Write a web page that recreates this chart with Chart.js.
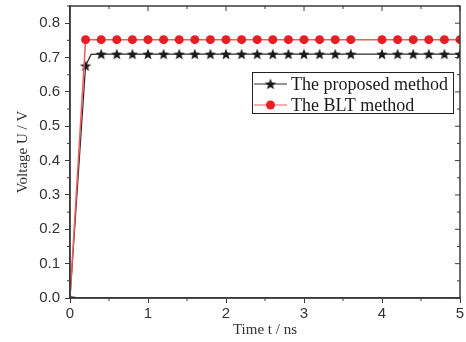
<!DOCTYPE html>
<html>
<head>
<meta charset="utf-8">
<script src="https://cdn.jsdelivr.net/npm/chart.js@4"></script>
<style>
  body { margin: 0; background: #fff; }
  canvas { display: block; }
</style>
</head>
<body>
<canvas id="myChart" width="466" height="342"></canvas>
<script>
// data
const proposedT = [0, 0.2, 0.27, 0.4, 0.6, 0.8, 1.0, 1.2, 1.4, 1.6, 1.8, 2.0, 2.2, 2.4, 2.6, 2.8, 3.0, 3.2, 3.4, 3.6, 4.0, 4.2, 4.4, 4.6, 4.8, 5.0];
const proposedU = [0, 0.676, 0.709, 0.71, 0.71, 0.71, 0.71, 0.71, 0.71, 0.71, 0.71, 0.71, 0.71, 0.71, 0.71, 0.71, 0.71, 0.71, 0.71, 0.71, 0.71, 0.71, 0.71, 0.71, 0.71, 0.71];
const bltT = [0, 0.2, 0.4, 0.6, 0.8, 1.0, 1.2, 1.4, 1.6, 1.8, 2.0, 2.2, 2.4, 2.6, 2.8, 3.0, 3.2, 3.4, 3.6, 4.0, 4.2, 4.4, 4.6, 4.8, 5.0];
const bltU = [0, 0.752, 0.752, 0.752, 0.752, 0.752, 0.752, 0.752, 0.752, 0.752, 0.752, 0.752, 0.752, 0.752, 0.752, 0.752, 0.752, 0.752, 0.752, 0.752, 0.752, 0.752, 0.752, 0.752, 0.752];
const xTicks = [0, 1, 2, 3, 4, 5];
const yTicks = [0, 0.1, 0.2, 0.3, 0.4, 0.5, 0.6, 0.7, 0.8];
const seriesNames = ['The proposed method', 'The BLT method'];

const axisColor = '#3a3a3a';
const textColor = '#333';

// filled five point star for the markers
function makeStar(r, color) {
    const c = document.createElement('canvas');
    c.width = c.height = r * 2 + 2;
    const g = c.getContext('2d');
    g.fillStyle = color;
    g.beginPath();
    for (let i = 0; i < 10; i++) {
        const rad = i % 2 === 0 ? r : r * 0.42;
        const a = -Math.PI / 2 + i * Math.PI / 5;
        const px = r + 1 + rad * Math.cos(a);
        const py = r + 1 + 0.5 + rad * Math.sin(a);
        if (i === 0) g.moveTo(px, py); else g.lineTo(px, py);
    }
    g.closePath();
    g.fill();
    return c;
}
const starImg = makeStar(6, '#1a1a1a');

function toPoints(xs, ys) {
    return xs.map((x, i) => ({ x: x, y: ys[i] }));
}

// markers only on the 0.2 grid, small one at t = 0
function markerRadius(size) {
    return ctx => {
        const x = ctx.raw ? ctx.raw.x : 0;
        if (x === 0) return 2;
        return Math.abs(x * 5 - Math.round(x * 5)) > 1e-6 ? 0 : size;
    };
}

// frame, mirrored ticks and minor ticks
const framePlugin = {
    id: 'frame',
    afterDraw(chart) {
        const { ctx, chartArea: a, scales } = chart;
        const xs = scales.x, ys = scales.y;
        ctx.save();
        ctx.strokeStyle = axisColor;
        ctx.lineWidth = 1.5;
        ctx.strokeRect(a.left, a.top, a.right - a.left, a.bottom - a.top);
        ctx.lineWidth = 1;
        ctx.beginPath();
        for (let v = 0.5; v < 5; v += 1) {
            const px = xs.getPixelForValue(v);
            ctx.moveTo(px, a.bottom); ctx.lineTo(px, a.bottom + 3);
            ctx.moveTo(px, a.top); ctx.lineTo(px, a.top + 3);
        }
        xTicks.forEach(v => {
            const px = xs.getPixelForValue(v);
            ctx.moveTo(px, a.top); ctx.lineTo(px, a.top + 5);
        });
        for (let v = 0.05; v < 0.85; v += 0.1) {
            const py = ys.getPixelForValue(v);
            ctx.moveTo(a.left, py); ctx.lineTo(a.left - 3, py);
            ctx.moveTo(a.right, py); ctx.lineTo(a.right - 3, py);
        }
        yTicks.forEach(v => {
            const py = ys.getPixelForValue(v);
            ctx.moveTo(a.right, py); ctx.lineTo(a.right - 5, py);
        });
        ctx.stroke();
        ctx.restore();
    }
};

// legend with line + marker samples
const legendBox = {
    id: 'legendBox',
    afterDraw(chart) {
        const ctx = chart.ctx;
        const bx = 252, by = 72, bw = 201, bh = 41;
        ctx.save();
        ctx.fillStyle = '#fff';
        ctx.fillRect(bx, by, bw, bh);
        ctx.strokeStyle = '#222';
        ctx.lineWidth = 1;
        ctx.strokeRect(bx + 0.5, by + 0.5, bw, bh);
        ctx.font = '18px "Liberation Serif", "Times New Roman", serif';
        ctx.textBaseline = 'middle';
        chart.data.datasets.forEach((ds, i) => {
            const y = by + 12 + i * 21;
            ctx.strokeStyle = ds.borderColor;
            ctx.lineWidth = 1.2;
            ctx.beginPath();
            ctx.moveTo(bx + 2, y); ctx.lineTo(bx + 35, y);
            ctx.stroke();
            if (i === 0) {
                ctx.drawImage(starImg, bx + 18.5 - starImg.width / 2, y - starImg.height / 2);
            } else {
                ctx.fillStyle = ds.pointBackgroundColor;
                ctx.beginPath();
                ctx.arc(bx + 18.5, y, 4.5, 0, Math.PI * 2);
                ctx.fill();
            }
            ctx.fillStyle = '#1a1a1a';
            ctx.fillText(ds.label, bx + 39, y + 1);
        });
        ctx.restore();
    }
};

const ctx = document.getElementById('myChart').getContext('2d');
const chart = new Chart(ctx, {
    type: 'line',
    data: {
        datasets: [{
            label: seriesNames[0],
            data: toPoints(proposedT, proposedU),
            borderColor: '#2a2a2a',
            borderWidth: 1.2,
            pointStyle: starImg,
            pointRadius: markerRadius(6),
            pointBackgroundColor: '#1a1a1a',
            pointBorderWidth: 0,
            order: 2
        }, {
            label: seriesNames[1],
            data: toPoints(bltT, bltU),
            borderColor: '#f25a5a',
            borderWidth: 1.5,
            pointStyle: ctx => (ctx.raw && ctx.raw.x === 0 ? 'rect' : 'circle'),
            pointRadius: markerRadius(4.5),
            pointBackgroundColor: '#ec1c24',
            pointBorderColor: '#ec1c24',
            pointBorderWidth: 0,
            order: 1
        }]
    },
    options: {
        responsive: false,
        animation: false,
        layout: { padding: { top: 4, right: 5, left: 0, bottom: 0 } },
        plugins: {
            legend: { display: false },
            tooltip: { enabled: false }
        },
        scales: {
            x: {
                type: 'linear',
                min: 0,
                max: 5,
                afterFit: s => { s.height = 44; s.paddingLeft = 0; s.paddingRight = 0; },
                afterBuildTicks: s => { s.ticks = xTicks.map(v => ({ value: v })); },
                ticks: {
                    color: textColor,
                    font: { family: '"Liberation Sans", Arial, sans-serif', size: 15 },
                    padding: 2,
                    maxRotation: 0,
                    callback: v => String(v)
                },
                grid: { drawOnChartArea: false, color: axisColor, tickLength: 5, lineWidth: 1 },
                border: { color: axisColor, width: 1.5 },
                title: {
                    display: true,
                    text: 'Time t / ns',
                    color: textColor,
                    font: { family: '"Liberation Serif", "Times New Roman", serif', size: 15 },
                    padding: { top: 0, bottom: 3 }
                }
            },
            y: {
                min: 0,
                max: 0.85,
                afterFit: s => { s.width = 70; s.paddingTop = 0; s.paddingBottom = 0; },
                afterBuildTicks: s => { s.ticks = yTicks.map(v => ({ value: v })); },
                ticks: {
                    color: textColor,
                    font: { family: '"Liberation Sans", Arial, sans-serif', size: 15 },
                    padding: 5,
                    callback: v => v.toFixed(1)
                },
                grid: { drawOnChartArea: false, color: axisColor, tickLength: 5, lineWidth: 1 },
                border: { color: axisColor, width: 1.5 },
                title: {
                    display: true,
                    text: 'Voltage U / V',
                    color: textColor,
                    font: { family: '"Liberation Serif", "Times New Roman", serif', size: 15 },
                    padding: { top: 14, bottom: 0 }
                }
            }
        }
    },
    plugins: [framePlugin, legendBox]
});
</script>
</body>
</html>
